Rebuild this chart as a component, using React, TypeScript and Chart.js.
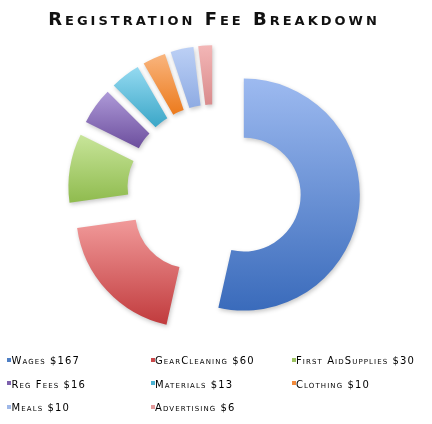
import { useEffect, useRef } from 'react';
import { Chart, registerables } from 'chart.js';

Chart.register(...registerables);

const TITLE = 'Registration Fee Breakdown';
const names = ['Wages', 'GearCleaning', 'First AidSupplies', 'Reg Fees', 'Materials', 'Clothing', 'Meals', 'Advertising'];
const amounts = [167, 60, 30, 16, 13, 10, 10, 6];
const labels = names.map((n, i) => `${n} $${amounts[i]}`);

// gradient ends for each slice (light at the top, darker at the bottom)
const topShades = ['#9dbaf0', '#f19a9a', '#c8e59a', '#ae9ad8', '#95daf1', '#f9b57e', '#bcd0f5', '#f3b6b6'];
const bottomShades = ['#3a6bbb', '#c13b3d', '#8fbb4e', '#6c4e9d', '#3aa6c7', '#ec7a1c', '#8eabe3', '#d98b8c'];
const swatches = ['#4f7fc4', '#c9494b', '#9bc25f', '#7d61ad', '#4ab2d2', '#f28a3a', '#9fb8e8', '#e39a9b'];

const EXPLODE = 30;

const explodedSlices = {
  id: 'explodedSlices',
  beforeDraw(chart: any) {
    chart.ctx.letterSpacing = '3px';
  },
  beforeDatasetsDraw(chart: any) {
    chart.ctx.letterSpacing = '0px';
  },
  beforeDatasetDraw(chart: any, args: any) {
    const ctx = chart.ctx;
    args.meta.data.forEach((arc: any, i: number) => {
      const { y, startAngle, endAngle, innerRadius, outerRadius } = arc.getProps(
        ['y', 'startAngle', 'endAngle', 'innerRadius', 'outerRadius'],
        true
      );
      const mid = (startAngle + endAngle) / 2;
      let top = Infinity;
      let bottom = -Infinity;
      for (let k = 0; k <= 24; k++) {
        const a = startAngle + ((endAngle - startAngle) * k) / 24;
        for (const r of [innerRadius, outerRadius]) {
          const py = y + Math.sin(a) * r;
          top = Math.min(top, py);
          bottom = Math.max(bottom, py);
        }
      }
      const fill = ctx.createLinearGradient(0, top, 0, bottom);
      fill.addColorStop(0, topShades[i]);
      fill.addColorStop(1, bottomShades[i]);

      const saved = arc.options;
      arc.options = { ...saved, backgroundColor: fill };
      ctx.save();
      ctx.translate(Math.cos(mid) * EXPLODE, Math.sin(mid) * EXPLODE);
      ctx.shadowColor = 'rgba(0,0,0,0.22)';
      ctx.shadowBlur = 4;
      ctx.shadowOffsetX = 1;
      ctx.shadowOffsetY = 2;
      arc.draw(ctx);
      ctx.restore();
      arc.options = saved;
    });
    return false;
  },
};

function FeeDoughnut() {
  const chartRef = useRef<HTMLCanvasElement>(null);
  const chartInstance = useRef<Chart | null>(null);

  useEffect(() => {
    document.body.style.margin = '0';
    if (!chartRef.current) return;
    if (chartInstance.current) chartInstance.current.destroy();

    const ctx = chartRef.current.getContext('2d');
    if (!ctx) return;

    const config = {
      type: 'doughnut',
      data: {
        labels,
        datasets: [
          {
            data: amounts,
            backgroundColor: swatches,
            borderWidth: 0,
            clip: false,
          },
        ],
      },
      options: {
        responsive: false,
        animation: false,
        cutout: '49%',
        radius: 116,
        layout: { padding: { left: 0, right: 4, top: 0, bottom: 82 } },
        plugins: {
          legend: { display: false },
          tooltip: { enabled: false },
          title: {
            display: true,
            text: TITLE,
            color: '#111',
            font: { family: "'DejaVu Sans', sans-serif", size: 18, weight: 'small-caps bold' },
            padding: { top: 10, bottom: 9 },
          },
        },
      },
      plugins: [explodedSlices],
    };

    chartInstance.current = new Chart(ctx, config as any);

    return () => {
      if (chartInstance.current) {
        chartInstance.current.destroy();
        chartInstance.current = null;
      }
    };
  }, []);

  return (
    <div style={{ position: 'relative', width: 432, height: 424, background: '#fff' }}>
      <canvas ref={chartRef} width={432} height={424} style={{ display: 'block' }} />
      <div
        style={{
          position: 'absolute',
          left: 7,
          top: 349,
          display: 'grid',
          gridTemplateColumns: '143.5px 141px 140px',
          gridAutoRows: '23.5px',
          fontFamily: "'DejaVu Sans', sans-serif",
          fontSize: 10,
          fontVariant: 'small-caps',
          letterSpacing: '1.1px',
          color: '#000',
          whiteSpace: 'nowrap',
        }}
      >
        {labels.map((label, i) => (
          <div key={label} style={{ lineHeight: '23.5px' }}>
            <span
              style={{
                display: 'inline-block',
                width: 4,
                height: 4,
                marginRight: 0.5,
                background: swatches[i],
                verticalAlign: '2.5px',
              }}
            />
            {label}
          </div>
        ))}
      </div>
    </div>
  );
}

export default function App() {
  return <FeeDoughnut />;
}
